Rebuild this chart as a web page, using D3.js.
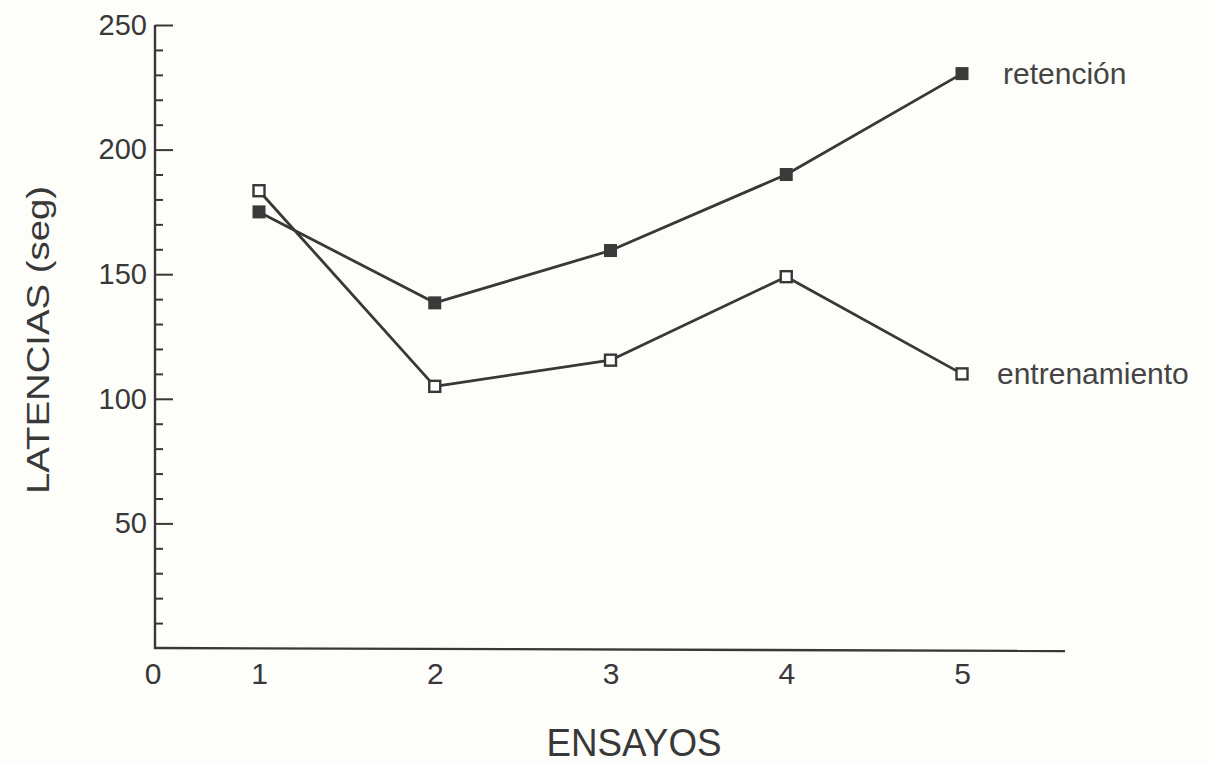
<!DOCTYPE html>
<html>
<head>
<meta charset="utf-8">
<script src="https://cdn.jsdelivr.net/npm/d3@7"></script>
<style>
  html, body { margin: 0; padding: 0; background: #fdfdf9; }
  svg { display: block; }
</style>
</head>
<body>
<svg id="chart" width="1209" height="763"></svg>
<script>
const ensayos = [1, 2, 3, 4, 5];
const retencion = [175, 138.5, 159.5, 190, 230.5];
const entrenamiento = [183.5, 105, 115.5, 149, 110];
const yMajorTicks = [50, 100, 150, 200, 250];
const yMinorTicks = [10, 20, 30, 40, 60, 70, 80, 90, 110, 120, 130, 140, 160, 170, 180, 190, 210, 220, 230, 240];
const seriesNames = ["retención", "entrenamiento"];

const ink = "#383838";
const svg = d3.select("#chart");

const x = d3.scaleLinear().domain([1, 5]).range([259, 962]);
const y = d3.scaleLinear().domain([0, 250]).range([648, 25]);
const axisLeftX = 155, axisRightX = 1065;

// Y axis: major ticks (inward) with labels
const gy = svg.append("g").attr("transform", `translate(${axisLeftX},0)`);
gy.call(d3.axisLeft(y).tickValues(yMajorTicks).tickSize(-18).tickPadding(8).tickFormat(d3.format("d")))
  .call(g => g.select(".domain").remove());
gy.attr("font-size", null).attr("font-family", null);
gy.selectAll(".tick line").attr("stroke", ink).attr("stroke-width", 2);
gy.selectAll(".tick text")
  .attr("fill", ink)
  .attr("font-family", "'Liberation Sans', Arial, sans-serif")
  .attr("font-size", 29);

// minor ticks
const gym = svg.append("g").attr("transform", `translate(${axisLeftX},0)`);
gym.call(d3.axisLeft(y).tickValues(yMinorTicks).tickSize(-8).tickFormat(""))
  .call(g => g.select(".domain").remove());
gym.selectAll(".tick line").attr("stroke", ink).attr("stroke-width", 2);

// vertical axis line
svg.append("line")
  .attr("x1", axisLeftX).attr("x2", axisLeftX)
  .attr("y1", y(250)).attr("y2", y(0) + 1)
  .attr("stroke", ink).attr("stroke-width", 2.4);

// horizontal axis line
svg.append("line")
  .attr("x1", axisLeftX - 1).attr("x2", axisRightX)
  .attr("y1", y(0)).attr("y2", y(0) + 3)
  .attr("stroke", ink).attr("stroke-width", 2.4);

// X axis tick labels
const gx = svg.append("g").attr("transform", `translate(0,${y(0)})`);
gx.call(d3.axisBottom(x).tickValues(ensayos).tickSize(0).tickPadding(15).tickFormat(d3.format("d")))
  .call(g => g.select(".domain").remove());
gx.attr("font-size", null).attr("font-family", null);
gx.selectAll(".tick text")
  .attr("fill", ink)
  .attr("font-family", "'Liberation Sans Narrow', 'Liberation Sans', sans-serif")
  .attr("font-size", 30);
// origin label
svg.append("text")
  .attr("x", axisLeftX - 2).attr("y", y(0) + 15)
  .attr("dy", "0.71em")
  .attr("text-anchor", "middle")
  .attr("fill", ink)
  .attr("font-family", "'Liberation Sans Narrow', 'Liberation Sans', sans-serif")
  .attr("font-size", 30)
  .text("0");

// lines
const line = d3.line().x((d, i) => x(ensayos[i])).y(d => y(d));
[retencion, entrenamiento].forEach(s => {
  svg.append("path")
    .datum(s)
    .attr("d", line)
    .attr("fill", "none")
    .attr("stroke", ink)
    .attr("stroke-width", 2.8)
    .attr("stroke-linejoin", "round");
});

// markers
const sq = 13;
svg.append("g").selectAll("rect")
  .data(retencion)
  .join("rect")
  .attr("x", (d, i) => x(ensayos[i]) - sq / 2)
  .attr("y", d => y(d) - sq / 2)
  .attr("width", sq).attr("height", sq)
  .attr("fill", "#3a3a3a");

svg.append("g").selectAll("rect")
  .data(entrenamiento)
  .join("rect")
  .attr("x", (d, i) => x(ensayos[i]) - (sq - 2) / 2)
  .attr("y", d => y(d) - (sq - 2) / 2)
  .attr("width", sq - 2).attr("height", sq - 2)
  .attr("fill", "#ffffff")
  .attr("stroke", ink)
  .attr("stroke-width", 2.4);

// series labels
const lastIdx = ensayos.length - 1;
svg.append("text")
  .attr("x", x(ensayos[lastIdx]) + 41)
  .attr("y", y(retencion[lastIdx]) + 10)
  .attr("fill", "#444")
  .attr("font-family", "'Liberation Sans', Arial, sans-serif")
  .attr("font-size", 30)
  .text(seriesNames[0]);
svg.append("text")
  .attr("x", x(ensayos[lastIdx]) + 35)
  .attr("y", y(entrenamiento[lastIdx]) + 10)
  .attr("fill", "#444")
  .attr("font-family", "'Liberation Sans', Arial, sans-serif")
  .attr("font-size", 30)
  .text(seriesNames[1]);

// axis titles
svg.append("text")
  .attr("transform", "translate(49,340) rotate(-90)")
  .attr("text-anchor", "middle")
  .attr("fill", ink)
  .attr("textLength", 308)
  .attr("lengthAdjust", "spacingAndGlyphs")
  .attr("font-family", "'Liberation Sans', Arial, sans-serif")
  .attr("font-size", 32)
  .text("LATENCIAS (seg)");

svg.append("text")
  .attr("x", 634).attr("y", 756)
  .attr("text-anchor", "middle")
  .attr("fill", ink)
  .attr("textLength", 175)
  .attr("lengthAdjust", "spacingAndGlyphs")
  .attr("font-family", "'Liberation Sans', Arial, sans-serif")
  .attr("font-size", 38)
  .text("ENSAYOS");
</script>
</body>
</html>
